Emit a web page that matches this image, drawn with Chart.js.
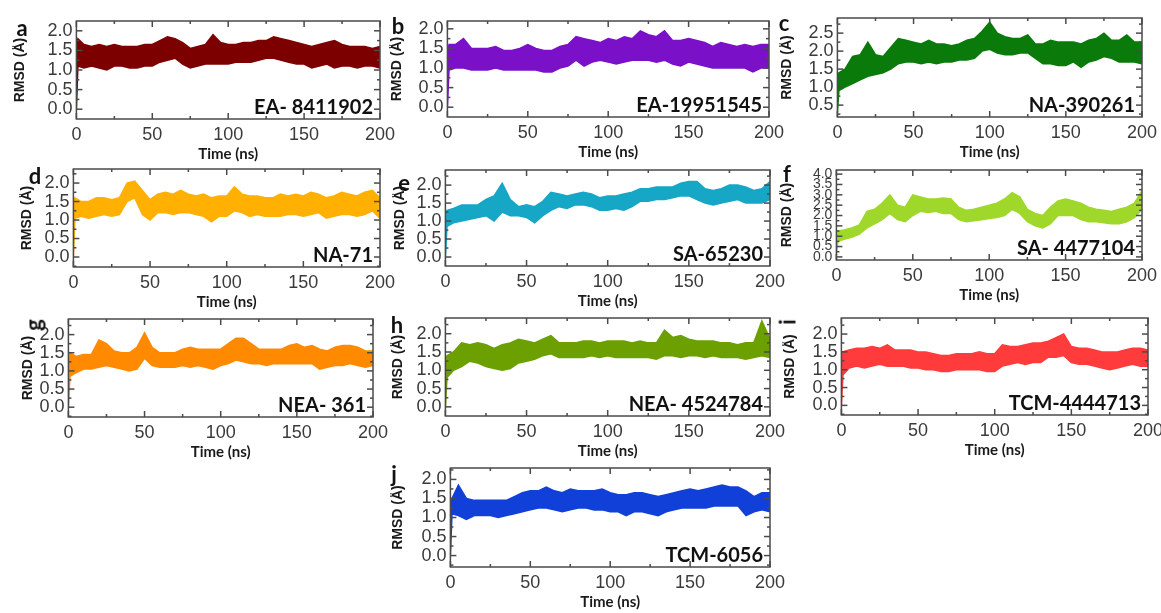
<!DOCTYPE html>
<html>
<head>
<meta charset="utf-8">
<script src="https://cdn.jsdelivr.net/npm/chart.js@4.4.1/dist/chart.umd.min.js"></script>
<style>
  body { margin: 0; background: #fff; width: 1161px; height: 613px; position: relative; overflow: hidden; }
  canvas { position: absolute; }
  .letter { position: absolute; font: bold 22px Lato, sans-serif; color: #111; transform: translate(-50%, -50%); }
</style>
</head>
<body>
<script>
// time points (ns) shared by every panel
const time = [0, 1, 5, 10, 15, 20, 25, 30, 35, 40, 45, 50, 55, 60, 65, 70, 75, 80, 85, 90,
  95, 100, 105, 110, 115, 120, 125, 130, 135, 140, 145, 150, 155, 160, 165, 170, 175, 180, 185, 190, 195, 200];
const xTicks = [0, 50, 100, 150, 200];

// upper / lower edge of each RMSD trace (Å)
const upperA = [1.6, 1.8, 1.65, 1.6, 1.65, 1.6, 1.65, 1.6, 1.6, 1.6, 1.65, 1.65, 1.75, 1.85, 1.8, 1.7, 1.55, 1.6, 1.65, 1.9,
  1.7, 1.65, 1.65, 1.7, 1.7, 1.75, 1.75, 1.85, 1.8, 1.75, 1.7, 1.65, 1.6, 1.65, 1.7, 1.75, 1.65, 1.6, 1.6, 1.6, 1.55, 1.6];
const lowerA = [0, 1.1, 1.05, 1.1, 1.05, 1.0, 1.1, 1.1, 1.05, 1.05, 1.1, 1.1, 1.2, 1.25, 1.3, 1.15, 1.05, 1.1, 1.15, 1.15,
  1.15, 1.15, 1.2, 1.2, 1.2, 1.25, 1.3, 1.3, 1.25, 1.2, 1.15, 1.15, 1.05, 1.1, 1.15, 1.05, 1.1, 1.1, 1.05, 1.1, 1.1, 1.05];

const upperB = [1.3, 1.6, 1.6, 1.75, 1.5, 1.5, 1.5, 1.55, 1.45, 1.45, 1.5, 1.6, 1.5, 1.45, 1.45, 1.55, 1.6, 1.8, 1.75, 1.7,
  1.65, 1.75, 1.7, 1.8, 1.75, 1.95, 1.85, 1.8, 1.95, 1.7, 1.7, 1.75, 1.7, 1.65, 1.55, 1.65, 1.6, 1.55, 1.6, 1.55, 1.6, 1.6];
const lowerB = [0, 0.95, 1.0, 1.0, 0.95, 0.95, 0.95, 1.0, 0.95, 0.95, 0.95, 0.95, 0.95, 0.9, 0.9, 1.0, 1.05, 1.2, 1.05, 1.15,
  1.2, 1.15, 1.1, 1.15, 1.2, 1.2, 1.2, 1.15, 1.2, 1.1, 1.05, 1.15, 1.1, 1.05, 1.0, 1.0, 1.0, 1.0, 1.0, 0.9, 1.0, 1.0];

const upperC = [1.35, 1.4, 1.5, 1.85, 1.9, 2.25, 1.9, 1.85, 2.1, 2.35, 2.3, 2.25, 2.2, 2.3, 2.2, 2.2, 2.15, 2.2, 2.3, 2.35,
  2.55, 2.8, 2.5, 2.4, 2.35, 2.35, 2.45, 2.2, 2.2, 2.3, 2.25, 2.25, 2.25, 2.2, 2.3, 2.35, 2.5, 2.3, 2.3, 2.45, 2.25, 2.25];
const lowerC = [0.3, 0.9, 1.0, 1.1, 1.2, 1.3, 1.35, 1.4, 1.5, 1.65, 1.7, 1.7, 1.65, 1.7, 1.65, 1.7, 1.7, 1.75, 1.75, 1.8,
  2.0, 2.05, 1.95, 1.9, 1.9, 1.95, 1.95, 1.8, 1.65, 1.65, 1.6, 1.6, 1.7, 1.55, 1.7, 1.75, 1.85, 1.8, 1.7, 1.7, 1.7, 1.65];

const upperD = [1.5, 1.6, 1.5, 1.5, 1.6, 1.6, 1.55, 1.6, 2.0, 2.05, 1.8, 1.55, 1.7, 1.75, 1.7, 1.8, 1.7, 1.65, 1.7, 1.6,
  1.65, 1.65, 1.9, 1.7, 1.65, 1.65, 1.6, 1.6, 1.7, 1.65, 1.7, 1.65, 1.75, 1.7, 1.6, 1.65, 1.75, 1.7, 1.65, 1.75, 1.8, 1.6];
const lowerD = [0, 1.05, 1.1, 1.05, 1.1, 1.15, 1.1, 1.15, 1.5, 1.6, 1.15, 1.0, 1.2, 1.2, 1.15, 1.2, 1.2, 1.15, 1.1, 0.95,
  1.1, 1.1, 1.25, 1.2, 1.1, 1.15, 1.1, 1.1, 1.1, 1.15, 1.15, 1.1, 1.15, 1.2, 1.05, 1.1, 1.15, 1.15, 1.1, 1.15, 1.25, 1.05];

const upperE = [1.2, 1.3, 1.35, 1.45, 1.45, 1.45, 1.6, 1.7, 2.05, 1.6, 1.4, 1.45, 1.4, 1.55, 1.8, 1.75, 1.7, 1.75, 1.8, 1.75,
  1.65, 1.7, 1.7, 1.75, 1.8, 1.9, 1.9, 1.95, 1.95, 1.95, 2.05, 2.1, 2.1, 1.9, 1.85, 1.9, 2.0, 2.0, 1.95, 1.85, 1.9, 2.1];
const lowerE = [0, 0.85, 0.95, 1.0, 1.05, 1.1, 1.15, 1.0, 1.25, 1.15, 1.15, 1.1, 0.95, 1.15, 1.3, 1.4, 1.35, 1.45, 1.45, 1.4,
  1.3, 1.3, 1.35, 1.3, 1.4, 1.55, 1.55, 1.6, 1.6, 1.65, 1.7, 1.7, 1.6, 1.5, 1.45, 1.5, 1.55, 1.6, 1.5, 1.5, 1.5, 1.6];

const upperF = [1.0, 1.25, 1.3, 1.4, 1.55, 2.2, 2.3, 2.6, 3.0, 2.5, 2.4, 3.0, 2.9, 2.8, 2.8, 2.85, 2.8, 2.4, 2.25, 2.3,
  2.4, 2.5, 2.6, 2.8, 3.1, 2.9, 2.3, 2.1, 2.0, 2.4, 2.7, 2.8, 2.7, 2.6, 2.4, 2.3, 2.25, 2.2, 2.3, 2.4, 2.6, 3.2];
const lowerF = [0.1, 0.75, 0.85, 0.95, 1.1, 1.4, 1.6, 1.8, 2.1, 1.8, 1.7, 2.0, 2.2, 2.15, 2.2, 2.1, 2.1, 1.8, 1.7, 1.75,
  1.8, 1.85, 1.9, 2.0, 2.3, 2.1, 1.7, 1.5, 1.4, 1.6, 2.0, 2.0, 2.0, 1.8, 1.7, 1.7, 1.65, 1.6, 1.6, 1.7, 1.9, 2.3];

const upperG = [1.0, 1.5, 1.4, 1.45, 1.45, 1.85, 1.75, 1.55, 1.5, 1.5, 1.65, 2.05, 1.65, 1.5, 1.5, 1.5, 1.6, 1.65, 1.6, 1.6,
  1.6, 1.6, 1.75, 1.9, 1.9, 1.75, 1.6, 1.6, 1.6, 1.6, 1.7, 1.75, 1.65, 1.7, 1.6, 1.55, 1.65, 1.7, 1.7, 1.65, 1.55, 1.55];
const lowerG = [0, 0.85, 0.95, 1.05, 1.05, 1.1, 1.15, 1.1, 1.05, 1.0, 1.05, 1.35, 1.15, 1.1, 1.1, 1.1, 1.15, 1.1, 1.15, 1.1,
  1.05, 1.15, 1.2, 1.3, 1.25, 1.2, 1.2, 1.15, 1.2, 1.2, 1.2, 1.2, 1.2, 1.2, 1.05, 1.1, 1.15, 1.15, 1.2, 1.15, 1.1, 1.15];

const upperH = [1.2, 1.4, 1.5, 1.75, 1.7, 1.75, 1.7, 1.6, 1.7, 1.75, 1.85, 1.8, 1.75, 1.85, 1.95, 1.75, 1.75, 1.75, 1.8, 1.8,
  1.75, 1.8, 1.8, 1.8, 1.75, 1.8, 1.75, 1.75, 2.1, 1.9, 1.95, 1.85, 1.8, 1.8, 1.8, 1.75, 1.75, 1.7, 1.75, 1.75, 2.35, 1.85];
const lowerH = [0, 0.8, 1.0, 1.1, 1.25, 1.2, 1.1, 1.05, 1.0, 1.05, 1.2, 1.25, 1.3, 1.4, 1.45, 1.35, 1.35, 1.35, 1.35, 1.4,
  1.35, 1.4, 1.35, 1.35, 1.35, 1.35, 1.35, 1.3, 1.4, 1.4, 1.35, 1.4, 1.4, 1.35, 1.4, 1.35, 1.35, 1.35, 1.3, 1.35, 1.4, 1.35];

const upperI = [1.0, 1.5, 1.55, 1.6, 1.6, 1.65, 1.6, 1.7, 1.55, 1.55, 1.55, 1.5, 1.5, 1.45, 1.4, 1.4, 1.45, 1.45, 1.45, 1.5,
  1.45, 1.45, 1.7, 1.65, 1.65, 1.7, 1.75, 1.75, 1.8, 1.9, 2.0, 1.65, 1.6, 1.6, 1.55, 1.5, 1.5, 1.5, 1.55, 1.6, 1.6, 1.55];
const lowerI = [0, 0.85, 1.05, 1.1, 1.05, 1.1, 1.15, 1.1, 1.1, 1.1, 1.05, 1.05, 1.0, 1.0, 0.95, 0.95, 1.0, 1.0, 1.0, 1.0,
  0.95, 0.95, 1.1, 1.15, 1.2, 1.15, 1.2, 1.2, 1.35, 1.35, 1.4, 1.2, 1.15, 1.15, 1.1, 1.05, 1.0, 1.05, 1.1, 1.15, 1.1, 1.1];

const upperJ = [1.2, 1.5, 1.85, 1.5, 1.45, 1.45, 1.45, 1.45, 1.45, 1.55, 1.65, 1.7, 1.7, 1.8, 1.7, 1.65, 1.75, 1.7, 1.7, 1.7,
  1.75, 1.65, 1.6, 1.6, 1.65, 1.65, 1.6, 1.55, 1.6, 1.65, 1.7, 1.75, 1.7, 1.75, 1.8, 1.85, 1.8, 1.8, 1.7, 1.55, 1.65, 1.65];
const lowerJ = [0, 1.1, 1.05, 0.95, 1.05, 1.05, 1.05, 1.0, 1.05, 1.1, 1.15, 1.2, 1.25, 1.25, 1.2, 1.15, 1.2, 1.25, 1.25, 1.2,
  1.2, 1.15, 1.15, 1.05, 1.15, 1.15, 1.1, 1.05, 1.15, 1.2, 1.25, 1.25, 1.25, 1.25, 1.3, 1.3, 1.3, 1.3, 1.05, 1.15, 1.2, 1.15];

// y tick labels
const yTicksStd = [0, 0.5, 1.0, 1.5, 2.0];
const yTicksC = [0.5, 1.0, 1.5, 2.0, 2.5];
const yTicksF = [0, 0.5, 1.0, 1.5, 2.0, 2.5, 3.0, 3.5, 4.0];

const compoundNames = ['EA- 8411902', 'EA-19951545', 'NA-390261', 'NA-71', 'SA-65230',
  'SA- 4477104', 'NEA- 361', 'NEA- 4524784', 'TCM-4444713', 'TCM-6056'];

// layout: plot box [left, top, right, bottom], y range, gap to y title, panel letter position
const panels = [
  { id: 'a', upper: upperA, lower: lowerA, yTicks: yTicksStd, color: '#7d0000', box: [76, 21, 380, 119], ymin: -0.25, ymax: 2.25, tOff: 56, letter: [22, 27, 0] },
  { id: 'b', upper: upperB, lower: lowerB, yTicks: yTicksStd, color: '#7a10c8', box: [447, 21, 769, 117], ymin: -0.25, ymax: 2.2, tOff: 50, letter: [398, 25, 0] },
  { id: 'c', upper: upperC, lower: lowerC, yTicks: yTicksC, color: '#0a7a0a', box: [837, 18, 1142, 117], ymin: 0.17, ymax: 2.92, tOff: 50, letter: [784, 22, 0] },
  { id: 'd', upper: upperD, lower: lowerD, yTicks: yTicksStd, color: '#ffb000', box: [73, 169, 380, 267], ymin: -0.27, ymax: 2.38, tOff: 46, letter: [35, 175, 0] },
  { id: 'e', upper: upperE, lower: lowerE, yTicks: yTicksStd, color: '#16a6c6', box: [445, 170, 770, 266], ymin: -0.25, ymax: 2.42, tOff: 45, letter: [404, 182, 0] },
  { id: 'f', upper: upperF, lower: lowerF, yTicks: yTicksF, color: '#9fd82a', box: [836, 170, 1142, 260], ymin: -0.15, ymax: 4.2, tOff: 49, letter: [787, 173, 0] },
  { id: 'g', upper: upperG, lower: lowerG, yTicks: yTicksStd, color: '#ff8a00', box: [68, 319, 373, 417], ymin: -0.27, ymax: 2.43, tOff: 40, letter: [33, 325, -90] },
  { id: 'h', upper: upperH, lower: lowerH, yTicks: yTicksStd, color: '#6ba000', box: [445, 318, 770, 416], ymin: -0.25, ymax: 2.43, tOff: 47, letter: [397, 324, 0] },
  { id: 'i', upper: upperI, lower: lowerI, yTicks: yTicksStd, color: '#ff3b3b', box: [841, 318, 1148, 415], ymin: -0.27, ymax: 2.45, tOff: 51, letter: [787, 322, -90] },
  { id: 'j', upper: upperJ, lower: lowerJ, yTicks: yTicksStd, color: '#1040d8', box: [450, 468, 770, 567], ymin: -0.3, ymax: 2.3, tOff: 52, letter: [394, 473, 0] }
];

const PAD_TOP = 10, PAD_RIGHT = 22, X_AXIS_H = 44;

// box + inward ticks + compound name
const framePlugin = {
  id: 'frame',
  afterDraw(chart, args, opts) {
    const { ctx, chartArea: a, scales: { x, y } } = chart;
    ctx.save();
    ctx.strokeStyle = '#4a4a4a';
    ctx.lineWidth = 1.5;
    ctx.font = 'bold 20px Lato';
    ctx.fillStyle = '#111';
    ctx.textAlign = 'right';
    ctx.fillText(opts.name, a.right - 7, a.bottom - 5);
    ctx.strokeRect(a.left, a.top, a.right - a.left, a.bottom - a.top);
    const seg = (x1, y1, x2, y2) => { ctx.beginPath(); ctx.moveTo(x1, y1); ctx.lineTo(x2, y2); ctx.stroke(); };
    xTicks.forEach((v, i) => {
      const p = x.getPixelForValue(v);
      seg(p, a.bottom, p, a.bottom - 6);
      seg(p, a.top, p, a.top + 6);
      if (i < xTicks.length - 1) {
        const m = x.getPixelForValue((v + xTicks[i + 1]) / 2);
        seg(m, a.bottom, m, a.bottom - 3);
        seg(m, a.top, m, a.top + 3);
      }
    });
    const yt = opts.yTicks;
    const step = yt[1] - yt[0];
    const minors = [yt[0] - step / 2];
    yt.forEach(v => minors.push(v + step / 2));
    yt.forEach(v => {
      const p = y.getPixelForValue(v);
      seg(a.left, p, a.left + 6, p);
      seg(a.right, p, a.right - 6, p);
    });
    minors.forEach(v => {
      if (v <= y.min || v >= y.max) return;
      const p = y.getPixelForValue(v);
      seg(a.left, p, a.left + 3, p);
      seg(a.right, p, a.right - 3, p);
    });
    ctx.restore();
  }
};

function drawPanel(p, idx) {
  const [L, T, R, B] = p.box;
  const yW = p.tOff + 8.4;
  const cv = document.createElement('canvas');
  cv.width = yW + (R - L) + PAD_RIGHT;
  cv.height = PAD_TOP + (B - T) + X_AXIS_H;
  cv.style.left = (L - yW) + 'px';
  cv.style.top = (T - PAD_TOP) + 'px';
  document.body.appendChild(cv);

  const lt = document.createElement('div');
  lt.className = 'letter';
  lt.textContent = p.id;
  lt.style.left = p.letter[0] + 'px';
  lt.style.top = p.letter[1] + 'px';
  if (p.letter[2]) lt.style.transform = 'translate(-50%,-50%) rotate(' + p.letter[2] + 'deg)';
  document.body.appendChild(lt);

  const tickFont = { family: '"Liberation Sans", Arial, sans-serif', size: 18 };
  new Chart(cv, {
    type: 'line',
    data: {
      datasets: [
        { data: time.map((t, i) => ({ x: t, y: p.upper[i] })), borderColor: p.color, backgroundColor: p.color,
          borderWidth: 1.5, pointRadius: 0, tension: 0, fill: '+1' },
        { data: time.map((t, i) => ({ x: t, y: p.lower[i] })), borderColor: p.color,
          borderWidth: 1.5, pointRadius: 0, tension: 0, fill: false }
      ]
    },
    options: {
      responsive: false,
      animation: false,
      events: [],
      layout: { padding: { top: PAD_TOP, right: PAD_RIGHT, left: 0, bottom: 0 } },
      plugins: {
        legend: { display: false },
        tooltip: { enabled: false },
        frame: { name: compoundNames[idx], yTicks: p.yTicks }
      },
      scales: {
        x: {
          type: 'linear', min: 0, max: 200,
          grid: { display: false, drawTicks: false },
          border: { display: false },
          afterBuildTicks: s => { s.ticks = xTicks.map(v => ({ value: v })); },
          afterFit: s => { s.height = X_AXIS_H; s.paddingLeft = 0; s.paddingRight = 0; },
          ticks: { autoSkip: false, maxRotation: 0, padding: 5, color: '#3a3a3a', font: tickFont },
          title: { display: true, text: 'Time (ns)', padding: 0, color: '#1a1a1a',
            font: { family: 'Lato, sans-serif', weight: 'bold', size: 15 } }
        },
        y: {
          min: p.ymin, max: p.ymax,
          grid: { display: false, drawTicks: false },
          border: { display: false },
          afterBuildTicks: s => { s.ticks = p.yTicks.map(v => ({ value: v })); },
          afterFit: s => { s.width = yW; s.paddingTop = 0; s.paddingBottom = 0; },
          ticks: { autoSkip: false, padding: 4, color: '#3a3a3a', callback: v => v.toFixed(1),
            font: p.id === 'f' ? { family: tickFont.family, size: 14 } : tickFont },
          title: { display: true, text: 'RMSD (Å)', padding: 0, color: '#1a1a1a',
            font: { family: '"Liberation Sans", Arial, sans-serif', weight: 'bold', size: 14 } }
        }
      }
    },
    plugins: [framePlugin]
  });
}

Promise.all([
  document.fonts.load('bold 20px Lato'),
  document.fonts.load('18px "Liberation Sans"'),
  document.fonts.load('bold 14px "Liberation Sans"')
]).catch(() => {}).then(() => panels.forEach(drawPanel));
</script>
</body>
</html>
